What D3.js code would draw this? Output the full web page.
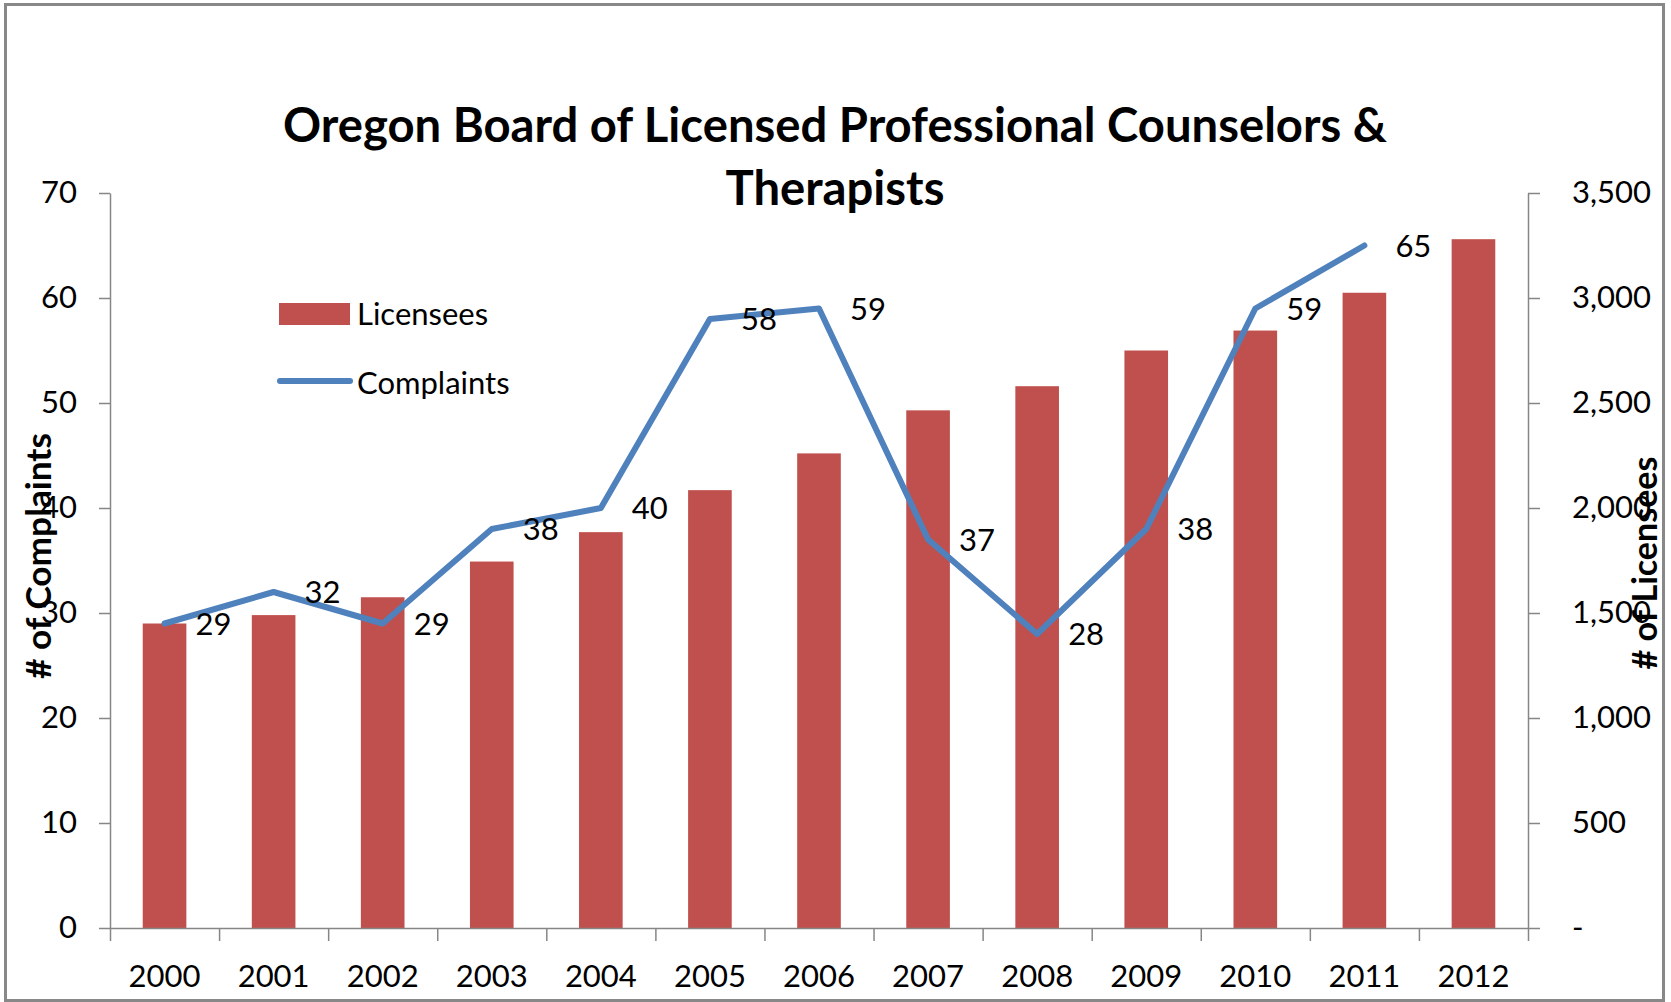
<!DOCTYPE html>
<html>
<head>
<meta charset="utf-8">
<script src="https://d3js.org/d3.v7.min.js"></script>
<style>
  body { margin: 0; background: #fff; }
  text { font-family: Lato, "Open Sans", sans-serif; fill: #000; }
  .axis path, .axis line { stroke: #868686; stroke-width: 1.5; }
</style>
</head>
<body>
<div id="chart"></div>
<script>
// data
const years = ["2000", "2001", "2002", "2003", "2004", "2005", "2006",
               "2007", "2008", "2009", "2010", "2011", "2012"];
const licensees = [1450, 1490, 1575, 1745, 1885, 2085, 2260, 2465, 2580, 2750, 2845, 3025, 3280];
const complaints = [29, 32, 29, 38, 40, 58, 59, 37, 28, 38, 59, 65, null];
const leftTicks = [0, 10, 20, 30, 40, 50, 60, 70];
const rightTicks = [0, 500, 1000, 1500, 2000, 2500, 3000, 3500];

const W = 1671, H = 1002;
const plot = {left: 110, right: 1528, top: 193, bottom: 928};

const svg = d3.select("#chart")
  .append("svg")
    .attr("width", W)
    .attr("height", H);

svg.append("rect")
  .attr("x", 5.5).attr("y", 4.5)
  .attr("width", 1658).attr("height", 996)
  .attr("fill", "#fff")
  .attr("stroke", "#888")
  .attr("stroke-width", 3);

// scales
const x = d3.scaleBand()
  .domain(years)
  .range([plot.left, plot.right])
  .paddingInner(0.6)
  .paddingOuter(0.3);

const xEdge = d3.scaleLinear()
  .domain([0, years.length])
  .range([plot.left, plot.right]);

const yL = d3.scaleLinear().domain([0, 70]).range([plot.bottom, plot.top]);
const yR = d3.scaleLinear().domain([0, 3500]).range([plot.bottom, plot.top]);

// bars
svg.append("g")
  .selectAll("rect")
  .data(years)
  .enter().append("rect")
    .attr("x", d => x(d))
    .attr("y", (d, i) => yR(licensees[i]))
    .attr("width", x.bandwidth())
    .attr("height", (d, i) => plot.bottom - yR(licensees[i]))
    .attr("fill", "#C0504D");

// axes
svg.append("g")
  .attr("class", "axis")
  .attr("transform", `translate(0,${plot.bottom})`)
  .call(d3.axisBottom(xEdge)
    .tickValues(d3.range(0, years.length + 1))
    .tickSize(13).tickSizeOuter(0).tickFormat(""));

const xLab = svg.append("g")
  .attr("transform", `translate(0,${plot.bottom})`)
  .call(d3.axisBottom(x).tickSize(0).tickPadding(37));
xLab.select(".domain").remove();

const yLeftAxis = svg.append("g")
  .attr("class", "axis")
  .attr("transform", `translate(${plot.left},0)`)
  .call(d3.axisLeft(yL).tickValues(leftTicks).tickSize(11).tickSizeOuter(0).tickPadding(22));

const yRightAxis = svg.append("g")
  .attr("class", "axis")
  .attr("transform", `translate(${plot.right},0)`)
  .call(d3.axisRight(yR).tickValues(rightTicks).tickSize(12).tickSizeOuter(0).tickPadding(32)
    .tickFormat(d => d === 0 ? "-" : d3.format(",")(d)));

svg.selectAll(".tick text")
  .style("font-size", "31px")
  .style("font-family", "Lato, 'Open Sans', sans-serif")
  .attr("fill", "#000");

// complaints line
const pts = years.map((y, i) => ({year: y, v: complaints[i]})).filter(d => d.v != null);

const line = d3.line()
  .x(d => x(d.year) + x.bandwidth() / 2)
  .y(d => yL(d.v));

svg.append("path")
  .datum(pts)
  .attr("fill", "none")
  .attr("stroke", "#4F81BD")
  .attr("stroke-width", 6)
  .attr("stroke-linejoin", "round")
  .attr("stroke-linecap", "round")
  .attr("d", line);

// data labels, to the right of each point
svg.append("g")
  .selectAll("text")
  .data(pts)
  .enter().append("text")
    .attr("x", d => x(d.year) + x.bandwidth() / 2 + 31)
    .attr("y", d => yL(d.v))
    .attr("dy", "0.36em")
    .style("font-size", "31px")
    .text(d => d.v);

// fit a text to a width measured on the picture
function fitWidth(sel, target) {
  const w = sel.node().getComputedTextLength();
  const fs = parseFloat(sel.style("font-size"));
  const nf = fs * target / w;
  sel.style("font-size", nf + "px");
  return nf;
}

// title
const t1 = svg.append("text")
  .attr("x", 835).attr("y", 142)
  .attr("text-anchor", "middle")
  .style("font-weight", "bold")
  .style("font-size", "42px")
  .text("Oregon Board of Licensed Professional Counselors &");
const tfs = fitWidth(t1, 1104);
svg.append("text")
  .attr("x", 835).attr("y", 205)
  .attr("text-anchor", "middle")
  .style("font-weight", "bold")
  .style("font-size", tfs + "px")
  .text("Therapists");

// axis titles
const lt = svg.append("text")
  .attr("transform", "translate(37,556) rotate(-90)")
  .attr("text-anchor", "middle")
  .attr("dominant-baseline", "central")
  .style("font-weight", "bold")
  .style("font-size", "31px")
  .text("# of Complaints");
fitWidth(lt, 246);

const rt = svg.append("text")
  .attr("transform", "translate(1643,563) rotate(-90)")
  .attr("text-anchor", "middle")
  .attr("dominant-baseline", "central")
  .style("font-weight", "bold")
  .style("font-size", "31px")
  .text("# of Licensees");
fitWidth(rt, 213);

// legend
const legend = svg.append("g");
legend.append("rect")
  .attr("x", 279).attr("y", 303)
  .attr("width", 71).attr("height", 22)
  .attr("fill", "#C0504D");
legend.append("text")
  .attr("x", 357).attr("y", 314).attr("dy", "0.36em")
  .style("font-size", "31px")
  .text("Licensees");
legend.append("line")
  .attr("x1", 280).attr("x2", 350)
  .attr("y1", 381).attr("y2", 381)
  .attr("stroke", "#4F81BD")
  .attr("stroke-width", 6)
  .attr("stroke-linecap", "round");
legend.append("text")
  .attr("x", 357).attr("y", 383).attr("dy", "0.36em")
  .style("font-size", "31px")
  .text("Complaints");
</script>
</body>
</html>
